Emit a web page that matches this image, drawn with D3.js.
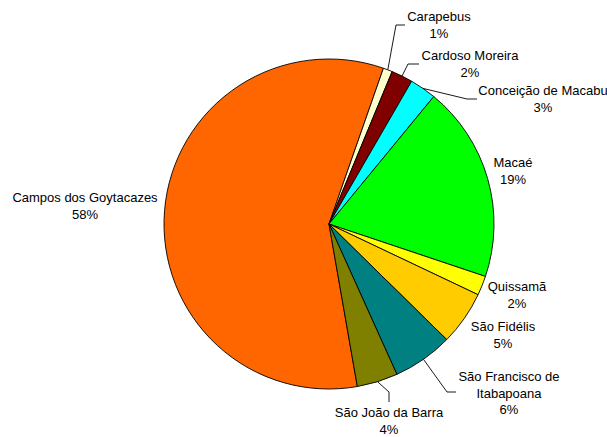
<!DOCTYPE html>
<html>
<head>
<meta charset="utf-8">
<script src="https://cdn.jsdelivr.net/npm/d3@7"></script>
<style>
  html, body { margin: 0; padding: 0; background: #fff; }
  svg { display: block; }
  text { font-family: "Liberation Sans", Arial, sans-serif; font-size: 13px; fill: #000; }
</style>
</head>
<body>
<svg id="chart" width="607" height="437"></svg>
<script>
// Data (alphabetical, as in source)
const categories = [
  "Campos dos Goytacazes", "Carapebus", "Cardoso Moreira", "Conceição de Macabu",
  "Macaé", "Quissamã", "São Fidélis", "São Francisco de Itabapoana", "São João da Barra"
];
const values = [58.1, 0.9, 2.1, 2.6, 19.2, 1.9, 5.3, 5.9, 4.0];
const percentLabels = ["58%", "1%", "2%", "3%", "19%", "2%", "5%", "6%", "4%"];
const colors = ["#FF6600", "#FFFFCC", "#800000", "#00FFFF", "#00FF00", "#FFFF00", "#FFCC00", "#008080", "#808000"];

// Layout (label block centers, line breaks, leader elbows)
const labelLines = [
  ["Campos dos Goytacazes"], ["Carapebus"], ["Cardoso Moreira"], ["Conceição de Macabu"],
  ["Macaé"], ["Quissamã"], ["São Fidélis"], ["São Francisco de", "Itabapoana"], ["São João da Barra"]
];
const labelPos = [
  [85, 206], [439, 25], [470, 64], [543, 99], [513, 171], [517, 295], [503, 335], [509, 393], [389, 421]
];
// leader: elbow and end points (null = no leader)
const leaders = [
  null, [[396, 25], [405, 25]], [[408, 64], [419, 64]], [[467, 99], [477, 99]],
  null, null, null, [[447, 392], [456, 392]], [[389, 392], [389, 402]]
];

const cx = 329, cy = 224, r = 165;
const startDeg = 170.1;

const svg = d3.select("#chart");
const g = svg.append("g").attr("transform", `translate(${cx},${cy})`);

const pie = d3.pie().sort(null).value(d => d)
  .startAngle(startDeg * Math.PI / 180)
  .endAngle(startDeg * Math.PI / 180 + 2 * Math.PI);
const arcs = pie(values);
const arc = d3.arc().innerRadius(0).outerRadius(r);

g.selectAll("path.slice").data(arcs).enter().append("path")
  .attr("class", "slice")
  .attr("d", arc)
  .attr("fill", (d, i) => colors[i])
  .attr("stroke", "#000")
  .attr("stroke-width", 0.9)
  .attr("stroke-linejoin", "round");

// Leaders
arcs.forEach((d, i) => {
  if (!leaders[i]) return;
  const mid = (d.startAngle + d.endAngle) / 2;
  const sx = cx + r * Math.sin(mid), sy = cy - r * Math.cos(mid);
  const pts = [[sx, sy]].concat(leaders[i]);
  svg.append("path")
    .attr("d", d3.line()(pts))
    .attr("fill", "none")
    .attr("stroke", "#000")
    .attr("stroke-width", 0.9);
});

// Labels
const lh = 16.5;
categories.forEach((c, i) => {
  const lines = labelLines[i].concat([percentLabels[i]]);
  const [x, y] = labelPos[i];
  const top = y - (lines.length - 1) * lh / 2;
  const t = svg.append("text").attr("text-anchor", "middle");
  lines.forEach((ln, k) => {
    t.append("tspan").attr("x", x).attr("y", top + k * lh).attr("dy", "0.35em").text(ln);
  });
});
</script>
</body>
</html>
